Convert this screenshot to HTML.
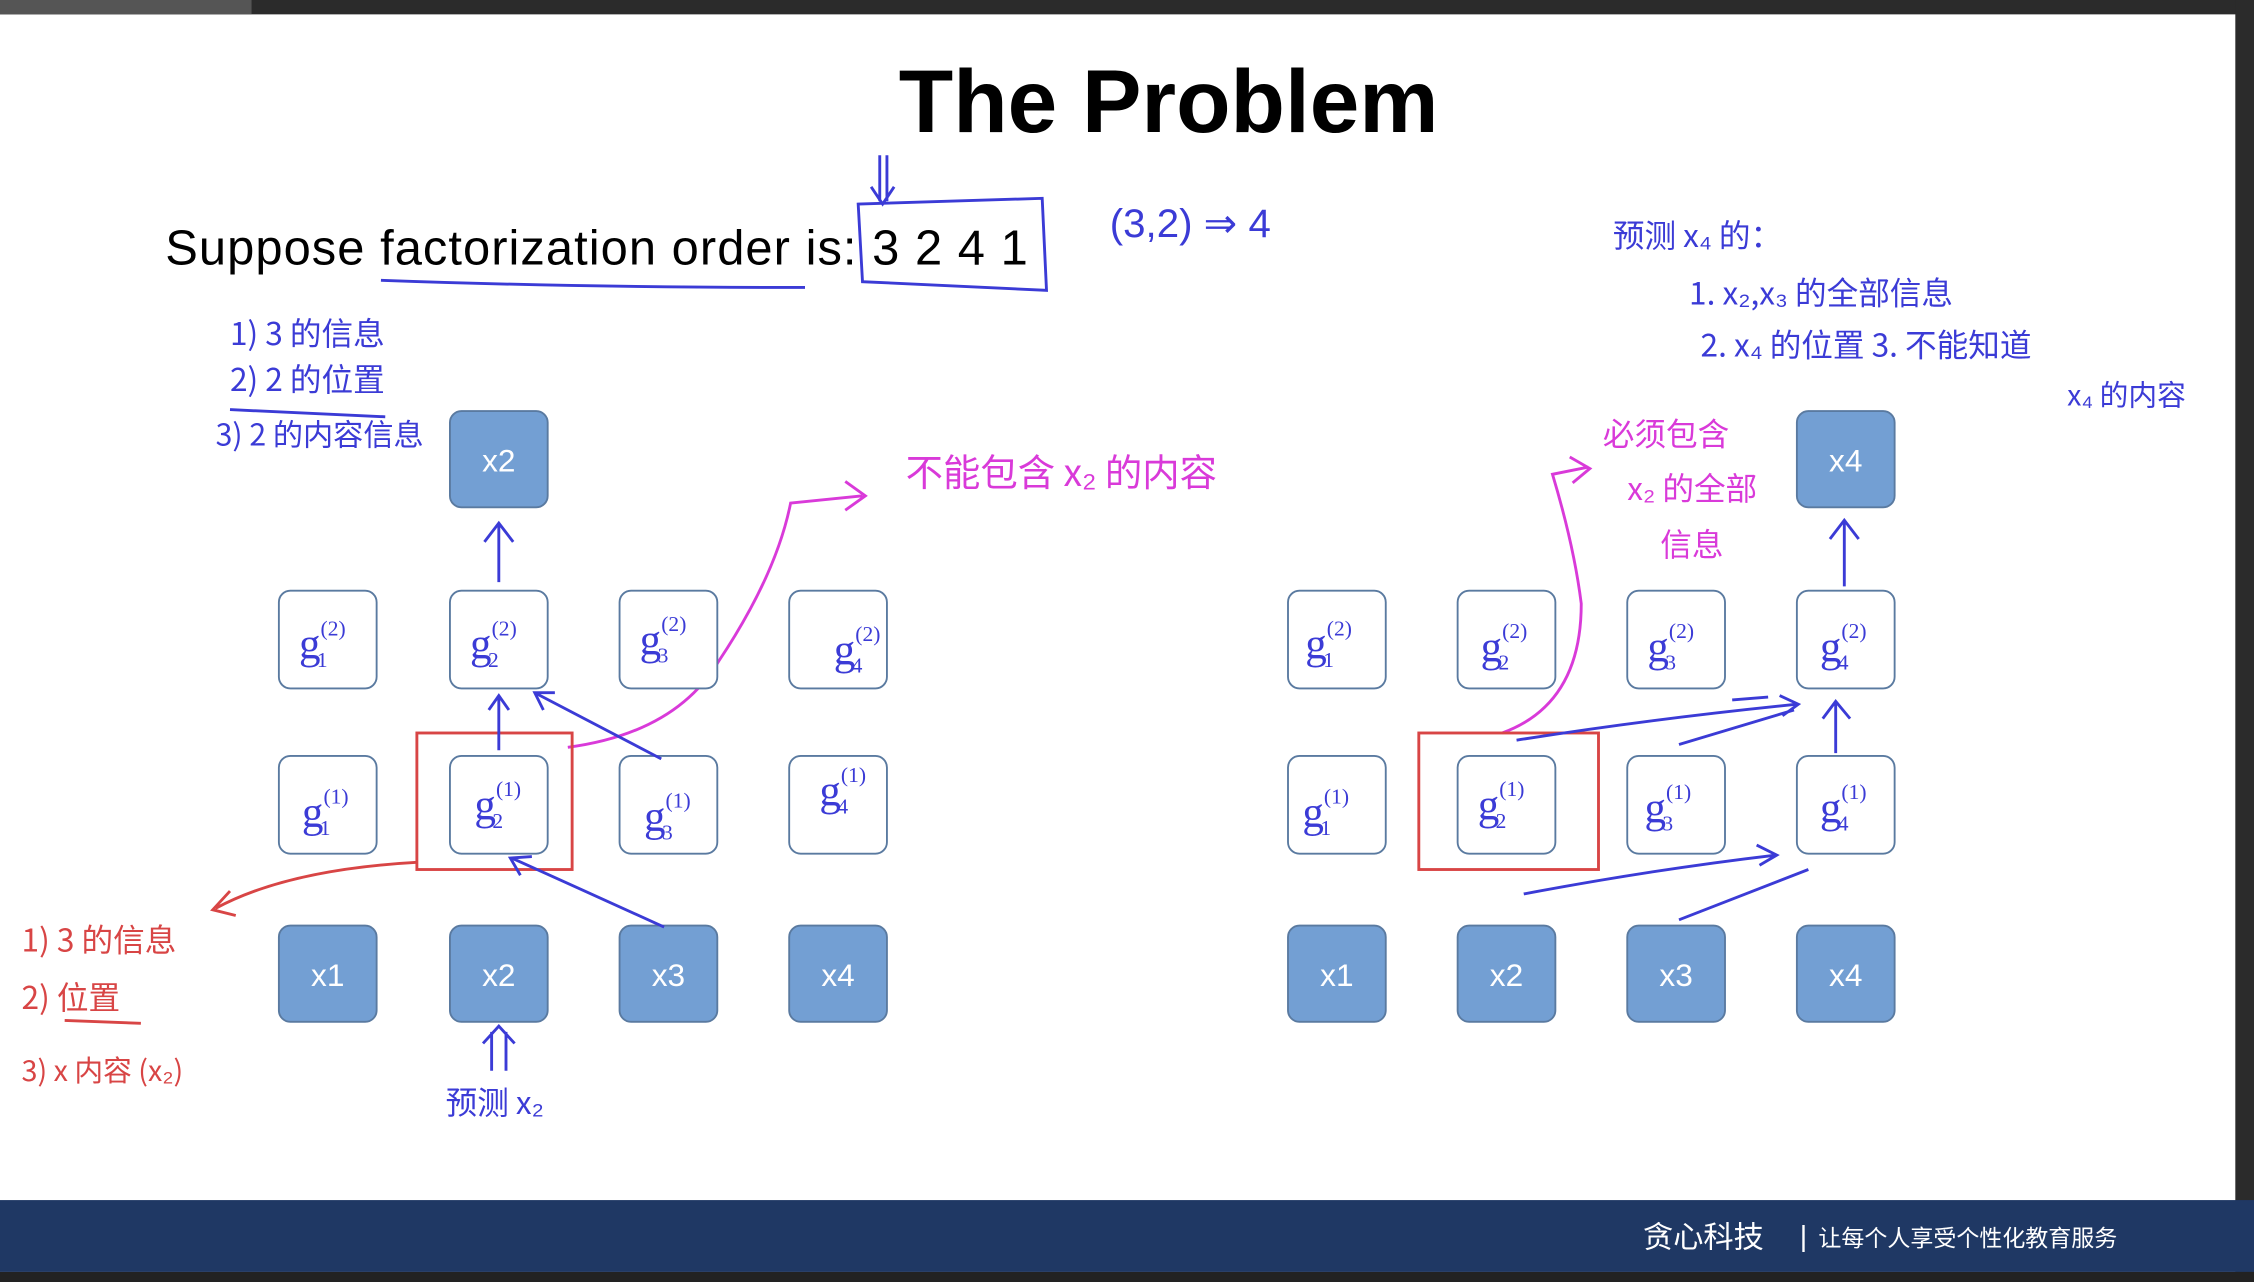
<!DOCTYPE html>
<html><head><meta charset="utf-8"><style>
html,body{margin:0;padding:0;background:#fff}
svg{display:block}
</style></head><body>
<svg width="2254" height="1282" viewBox="0 0 1568 892" preserveAspectRatio="none" xmlns="http://www.w3.org/2000/svg" font-family="Liberation Sans, Noto Sans CJK SC, sans-serif">
<rect x="0" y="0" width="1568" height="892" fill="#fff"/>
<rect x="0" y="0" width="1568" height="10" fill="#2b2b2b"/>
<rect x="0" y="0" width="175" height="10" fill="#555"/>
<rect x="1555" y="0" width="13" height="892" fill="#2b2b2b"/>
<rect x="0" y="835" width="1568" height="50" fill="#1f3864"/>
<rect x="0" y="885" width="1568" height="7" fill="#222"/>
<text x="1143" y="868" fill="#fff" font-size="21" font-family="Noto Sans CJK SC, sans-serif">贪心科技</text>
<text x="1252" y="867" fill="#fff" font-size="20">|</text>
<text x="1265" y="867" fill="#fff" font-size="16" font-family="Noto Sans CJK SC, sans-serif">让每个人享受个性化教育服务</text>

<text x="813" y="92" text-anchor="middle" font-size="62" font-weight="bold" fill="#000">The Problem</text>
<text x="115" y="184" font-size="34" fill="#000" textLength="600" lengthAdjust="spacing">Suppose factorization order is: 3 2 4 1</text>

<g fill="none" stroke="#3b3bd6" stroke-width="2">
<path d="M265 195 Q400 200 560 200"/>
<path d="M597 142 L725 138 L728 202 L600 196 Z"/>
<path d="M612 108 L612 140 M617 108 L617 140 M606 130 L614 142 L622 130"/>
</g>
<g fill="#3b3bd6" font-family="Noto Sans CJK SC, sans-serif">
<text x="772" y="165" font-size="28" font-family="Liberation Sans, sans-serif">(3,2) ⇒ 4</text>
<text x="1122" y="172" font-size="22">预测 x₄ 的：</text>
<text x="1175" y="212" font-size="22">1. x₂,x₃ 的全部信息</text>
<text x="1183" y="248" font-size="22">2. x₄ 的位置  3. 不能知道</text>
<text x="1438" y="282" font-size="20">x₄ 的内容</text>
<text x="160" y="240" font-size="22">1) 3 的信息</text>
<text x="160" y="272" font-size="22">2) 2 的位置</text>
<text x="150" y="310" font-size="21">3) 2 的内容信息</text>
<text x="310" y="775" font-size="22">预测 x₂</text>
</g>
<path d="M160 285 L268 290" stroke="#3b3bd6" stroke-width="2" fill="none"/>
<path d="M342 745 L342 718 M352 745 L352 718 M336 726 L347 714 L358 726" stroke="#3b3bd6" stroke-width="2" fill="none"/>

<g fill="#d93ad9" font-family="Noto Sans CJK SC, sans-serif">
<text x="630" y="338" font-size="26">不能包含 x₂ 的内容</text>
<text x="1115" y="310" font-size="22">必须包含</text>
<text x="1132" y="348" font-size="22">x₂ 的全部</text>
<text x="1155" y="387" font-size="22">信息</text>
</g>
<g fill="none" stroke="#d93ad9" stroke-width="2">
<path d="M395 520 Q470 510 500 460 Q540 400 550 350 L600 345 M588 335 L602 345 L588 355"/>
<path d="M1045 510 Q1100 490 1100 420 Q1095 380 1080 330 L1105 325 M1092 318 L1106 326 L1094 336"/>
</g>

<g fill="none" stroke="#d84545" stroke-width="2">
<rect x="290" y="510" width="108" height="95"/>
<rect x="987" y="510" width="125" height="95"/>
<path d="M290 600 Q200 605 150 632 M160 620 L148 633 L164 637"/>
</g>
<g fill="#d84545" font-family="Noto Sans CJK SC, sans-serif">
<text x="15" y="662" font-size="22">1) 3 的信息</text>
<text x="15" y="702" font-size="22">2) 位置</text>
<text x="15" y="752" font-size="20">3) x 内容 (x₂)</text>
</g>
<path d="M45 710 L98 712" stroke="#d84545" stroke-width="2"/>

<g stroke="#5a7aa0" stroke-width="1.3">
<g fill="#739fd3">
<rect x="313" y="286" width="68" height="67" rx="8"/>
<rect x="1250" y="286" width="68" height="67" rx="8"/>
<rect x="194" y="644" width="68" height="67" rx="8"/>
<rect x="313" y="644" width="68" height="67" rx="8"/>
<rect x="431" y="644" width="68" height="67" rx="8"/>
<rect x="549" y="644" width="68" height="67" rx="8"/>
<rect x="896" y="644" width="68" height="67" rx="8"/>
<rect x="1014" y="644" width="68" height="67" rx="8"/>
<rect x="1132" y="644" width="68" height="67" rx="8"/>
<rect x="1250" y="644" width="68" height="67" rx="8"/>
</g>
<g fill="#fff">
<rect x="194" y="411" width="68" height="68" rx="8"/><rect x="313" y="411" width="68" height="68" rx="8"/><rect x="431" y="411" width="68" height="68" rx="8"/><rect x="549" y="411" width="68" height="68" rx="8"/>
<rect x="194" y="526" width="68" height="68" rx="8"/><rect x="313" y="526" width="68" height="68" rx="8"/><rect x="431" y="526" width="68" height="68" rx="8"/><rect x="549" y="526" width="68" height="68" rx="8"/>
<rect x="896" y="411" width="68" height="68" rx="8"/><rect x="1014" y="411" width="68" height="68" rx="8"/><rect x="1132" y="411" width="68" height="68" rx="8"/><rect x="1250" y="411" width="68" height="68" rx="8"/>
<rect x="896" y="526" width="68" height="68" rx="8"/><rect x="1014" y="526" width="68" height="68" rx="8"/><rect x="1132" y="526" width="68" height="68" rx="8"/><rect x="1250" y="526" width="68" height="68" rx="8"/>
</g>
</g>
<g fill="#fff" font-size="22" text-anchor="middle">
<text x="347" y="328">x2</text><text x="1284" y="328">x4</text>
<text x="228" y="686">x1</text><text x="347" y="686">x2</text><text x="465" y="686">x3</text><text x="583" y="686">x4</text>
<text x="930" y="686">x1</text><text x="1048" y="686">x2</text><text x="1166" y="686">x3</text><text x="1284" y="686">x4</text>
</g>
<g fill="#3b3bd6" font-size="30" font-family="Liberation Serif, serif">
<text x="208" y="458">g<tspan font-size="15" dy="-16">(2)</tspan><tspan font-size="15" dx="-20" dy="22">1</tspan></text>
<text x="327" y="458">g<tspan font-size="15" dy="-16">(2)</tspan><tspan font-size="15" dx="-20" dy="22">2</tspan></text>
<text x="445" y="455">g<tspan font-size="15" dy="-16">(2)</tspan><tspan font-size="15" dx="-20" dy="22">3</tspan></text>
<text x="580" y="462">g<tspan font-size="15" dy="-16">(2)</tspan><tspan font-size="15" dx="-20" dy="22">4</tspan></text>
<text x="210" y="575">g<tspan font-size="15" dy="-16">(1)</tspan><tspan font-size="15" dx="-20" dy="22">1</tspan></text>
<text x="330" y="570">g<tspan font-size="15" dy="-16">(1)</tspan><tspan font-size="15" dx="-20" dy="22">2</tspan></text>
<text x="448" y="578">g<tspan font-size="15" dy="-16">(1)</tspan><tspan font-size="15" dx="-20" dy="22">3</tspan></text>
<text x="570" y="560">g<tspan font-size="15" dy="-16">(1)</tspan><tspan font-size="15" dx="-20" dy="22">4</tspan></text>
<text x="908" y="458">g<tspan font-size="15" dy="-16">(2)</tspan><tspan font-size="15" dx="-20" dy="22">1</tspan></text>
<text x="1030" y="460">g<tspan font-size="15" dy="-16">(2)</tspan><tspan font-size="15" dx="-20" dy="22">2</tspan></text>
<text x="1146" y="460">g<tspan font-size="15" dy="-16">(2)</tspan><tspan font-size="15" dx="-20" dy="22">3</tspan></text>
<text x="1266" y="460">g<tspan font-size="15" dy="-16">(2)</tspan><tspan font-size="15" dx="-20" dy="22">4</tspan></text>
<text x="906" y="575">g<tspan font-size="15" dy="-16">(1)</tspan><tspan font-size="15" dx="-20" dy="22">1</tspan></text>
<text x="1028" y="570">g<tspan font-size="15" dy="-16">(1)</tspan><tspan font-size="15" dx="-20" dy="22">2</tspan></text>
<text x="1144" y="572">g<tspan font-size="15" dy="-16">(1)</tspan><tspan font-size="15" dx="-20" dy="22">3</tspan></text>
<text x="1266" y="572">g<tspan font-size="15" dy="-16">(1)</tspan><tspan font-size="15" dx="-20" dy="22">4</tspan></text>
</g>

<g fill="none" stroke="#3b3bd6" stroke-width="2">
<path d="M347 405 L347 364 M337 377 L347 364 L357 377"/>
<path d="M347 522 L347 484 M340 494 L347 484 L354 494"/>
<path d="M460 528 L372 482 M378 494 L372 482 L386 482"/>
<path d="M462 645 L356 597 M362 609 L355 597 L370 596"/>
<path d="M1283 408 L1283 362 M1273 375 L1283 362 L1293 375"/>
<path d="M1277 524 L1277 488 M1268 500 L1277 488 L1287 500"/>
<path d="M1055 515 Q1150 500 1250 490 M1238 484 L1251 490 L1240 498"/>
<path d="M1168 518 L1248 494"/>
<path d="M1205 487 L1230 485"/>
<path d="M1060 622 Q1150 605 1235 595 M1222 588 L1236 595 L1224 602"/>
<path d="M1168 640 L1258 605"/>
</g>
</svg>
</body></html>
